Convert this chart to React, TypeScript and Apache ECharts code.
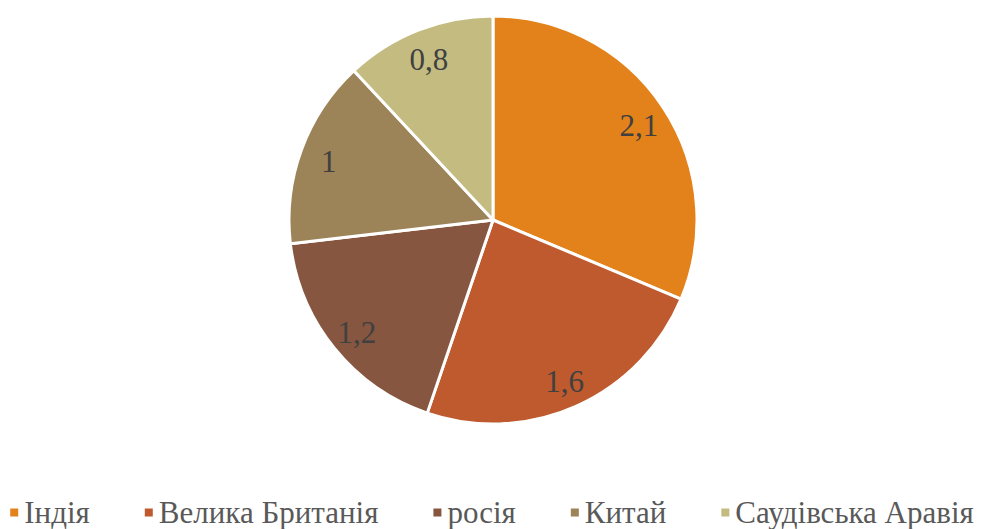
import React, { useEffect, useRef } from "react";
import * as echarts from "echarts";

const categories = ["Індія", "Велика Британія", "росія", "Китай", "Саудівська Аравія"];
const values = [2.1, 1.6, 1.2, 1, 0.8];
const colors = ["#E3821A", "#BE5A2D", "#875640", "#9C8358", "#C4BB80"];

const fmt = (v: number) => String(v).replace(".", ",");
const SERIF = "Liberation Serif";

export default function App() {
  const ref = useRef<HTMLDivElement>(null);
  useEffect(() => {
    if (!ref.current) return;
    const chart = echarts.init(ref.current, undefined, { renderer: "svg" });
    const data = categories.map((name, i) => ({ name, value: values[i] }));
    chart.setOption({
      animation: false,
      color: colors,
      textStyle: { fontFamily: SERIF },
      legend: {
        top: 497,
        left: "center",
        padding: 0,
        icon: "rect",
        itemWidth: 10,
        itemHeight: 10,
        itemGap: 53,
        textStyle: { fontFamily: SERIF, fontSize: 31, color: "#595959" },
        data: categories,
      },
      series: [
        {
          type: "pie",
          center: [493, 220],
          radius: [0, 204],
          startAngle: 90,
          clockwise: true,
          silent: true,
          itemStyle: { borderColor: "#ffffff", borderWidth: 3 },
          label: { show: false },
          labelLine: { show: false },
          data,
        },
        {
          type: "pie",
          center: [493, 222],
          radius: [140, 204],
          startAngle: 90,
          clockwise: true,
          silent: true,
          itemStyle: { color: "rgba(0,0,0,0)", borderWidth: 0 },
          label: {
            show: true,
            position: "inside",
            formatter: (p: any) => fmt(p.value),
            fontFamily: SERIF,
            fontSize: 31,
            color: "#404040",
          },
          labelLine: { show: false },
          data: data.map((d) => ({ ...d, itemStyle: { color: "rgba(0,0,0,0)" } })),
        },
      ],
    });
    return () => chart.dispose();
  }, []);
  return (
    <div
      ref={ref}
      style={{ position: "fixed", left: 0, top: 0, width: 982, height: 529, background: "#ffffff" }}
    />
  );
}
